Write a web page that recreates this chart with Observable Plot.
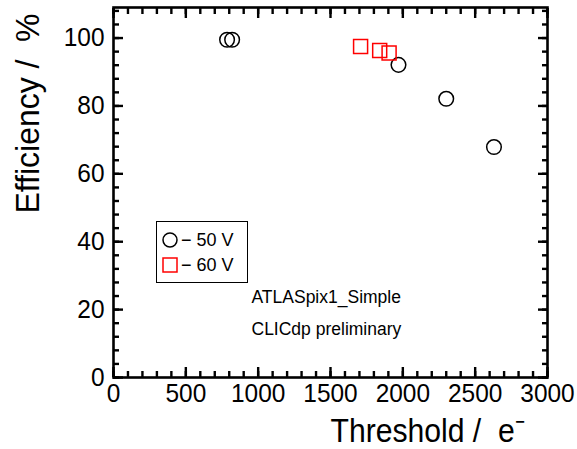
<!DOCTYPE html>
<html>
<head>
<meta charset="utf-8">
<script src="https://cdn.jsdelivr.net/npm/d3@7"></script>
<script src="https://cdn.jsdelivr.net/npm/@observablehq/plot@0.6"></script>
<style>
  body { margin: 0; background: #fff; }
  #wrap { position: relative; width: 577px; height: 449px; }
  #legend { position: absolute; left: 156px; top: 221px; width: 92px; height: 62px; box-sizing: border-box;
            border: 1.5px solid #000; background: #fff; font-family: "Liberation Sans", Arial, sans-serif; font-size: 18px; }
  .row { position: absolute; left: 5px; height: 20px; display: flex; align-items: center; }
  .row svg { margin-right: 3px; }
</style>
</head>
<body>
<div id="wrap"></div>
<script>
// Data
const series = ["− 50 V", "− 60 V"];
const thr50 = [785, 820, 1970, 2300, 2630];
const eff50 = [99.5, 99.5, 92.1, 82.1, 67.9];
const thr60 = [1708, 1840, 1905];
const eff60 = [97.5, 96.3, 95.6];
const xMajor = [0, 500, 1000, 1500, 2000, 2500, 3000];
const xMinor = d3.range(0, 3001, 100);
const yMajor = [0, 20, 40, 60, 80, 100];
const yMinor = d3.range(0, 109, 4);
const notes = ["ATLASpix1_Simple", "CLICdp preliminary"];
const xTitle = "Threshold /  e⁻";
const yTitle = "Efficiency /  %";

const d50 = thr50.map((x, i) => ({x, y: eff50[i]}));
const d60 = thr60.map((x, i) => ({x, y: eff60[i]}));

const W = 577, H = 449, ML = 113, MR = 30, MT = 7, MB = 72;
const majorLen = 10, minorLen = 6;
const tk = {text: null, label: null, stroke: "#000", strokeWidth: 2.4};

const chart = Plot.plot({
  width: W, height: H,
  marginLeft: ML, marginRight: MR, marginTop: MT, marginBottom: MB,
  style: {fontFamily: "'Liberation Sans', Arial, sans-serif", color: "#000", background: "#fff"},
  x: {domain: [0, 3000]},
  y: {domain: [0, 109]},
  marks: [
    // tick labels
    Plot.axisX({anchor: "bottom", ticks: xMajor, tickSize: 0, tickPadding: 6, label: null, fontSize: 26, tickFormat: d => String(d)}),
    Plot.axisY({anchor: "left", ticks: yMajor, tickSize: 0, tickPadding: 9, label: null, fontSize: 26, tickFormat: d => String(d)}),
    // inward ticks on all four sides
    Plot.axisX({anchor: "bottom", ticks: xMinor, tickSize: -minorLen, ...tk}),
    Plot.axisX({anchor: "bottom", ticks: xMajor, tickSize: -majorLen, ...tk}),
    Plot.axisX({anchor: "top", ticks: xMinor, tickSize: -minorLen, ...tk}),
    Plot.axisX({anchor: "top", ticks: xMajor, tickSize: -majorLen, ...tk}),
    Plot.axisY({anchor: "left", ticks: yMinor, tickSize: -minorLen, ...tk}),
    Plot.axisY({anchor: "left", ticks: yMajor, tickSize: -majorLen, ...tk}),
    Plot.axisY({anchor: "right", ticks: yMinor, tickSize: -minorLen, ...tk}),
    Plot.axisY({anchor: "right", ticks: yMajor, tickSize: -majorLen, ...tk}),
    Plot.frame({stroke: "#000", strokeWidth: 2.6}),
    Plot.dot(d50, {x: "x", y: "y", r: 7.3, symbol: "circle", stroke: "#000", strokeWidth: 1.5, fill: "none"}),
    Plot.dot(d60, {x: "x", y: "y", r: 7.9, symbol: "square", stroke: "#ff0000", strokeWidth: 1.5, fill: "none"}),
    Plot.text([notes[0]], {text: d => d, frameAnchor: "top-left", dx: 138, dy: 290, textAnchor: "start", lineAnchor: "middle", fontSize: 17.5}),
    Plot.text([notes[1]], {text: d => d, frameAnchor: "top-left", dx: 138, dy: 322, textAnchor: "start", lineAnchor: "middle", fontSize: 17.5}),
    Plot.text([yTitle], {text: d => d, frameAnchor: "top-left", dx: -85, dy: 106, rotate: -90, textAnchor: "middle", lineAnchor: "middle", fontSize: 34}),
    Plot.text([xTitle], {text: d => d, frameAnchor: "bottom-left", dx: 217, dy: 54, textAnchor: "start", lineAnchor: "middle", fontSize: 34})
  ]
});

// condense the glyphs to the narrow look of the reference
const svg = d3.select(chart);
svg.selectAll("text").each(function () {
  const t = this.textContent;
  let len = null;
  if (t === xTitle) len = 194;
  else if (t === yTitle) len = 200;
  else if (/^\d+$/.test(t)) len = t.length * 13.6;
  if (len) d3.select(this).attr("textLength", len).attr("lengthAdjust", "spacingAndGlyphs");
});

const wrap = document.getElementById("wrap");
wrap.appendChild(chart);

// legend overlay
const legend = document.createElement("div");
legend.id = "legend";
legend.innerHTML =
  `<div class="row" style="top:8px"><svg width="16" height="16"><circle cx="8" cy="8" r="7" fill="none" stroke="#000" stroke-width="1.5"/></svg><span>${series[0]}</span></div>` +
  `<div class="row" style="top:33px"><svg width="16" height="16"><rect x="1" y="1" width="14" height="14" fill="none" stroke="#ff0000" stroke-width="1.5"/></svg><span>${series[1]}</span></div>`;
wrap.appendChild(legend);
</script>
</body>
</html>
